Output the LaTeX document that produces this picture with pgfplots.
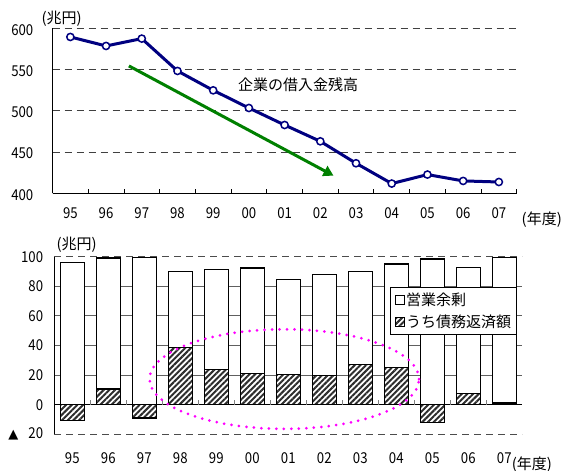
\documentclass[border=0pt]{standalone}
\usepackage{pgfplots}
\pgfplotsset{compat=1.18}
\usepackage{fontspec}
\usetikzlibrary{patterns.meta,arrows.meta}
\setmainfont{Noto Sans CJK JP}
\newfontfamily\numfont[FakeStretch=0.88]{Noto Sans CJK JP}
\newfontfamily\symfont{DejaVu Sans}
\definecolor{navyline}{HTML}{000080}
\definecolor{arrowgreen}{HTML}{008000}
\definecolor{dotmagenta}{HTML}{FF00FF}

\newcommand{\ticksize}{\numfont\fontsize{15bp}{18bp}\selectfont}
\newcommand{\jpsize}{\fontsize{15bp}{18bp}\selectfont}

\begin{document}
\begin{tikzpicture}
\useasboundingbox (0,0) rectangle (563bp,471bp);

% ---- Upper panel: outstanding corporate borrowing (trillion yen)
\begin{axis}[
  at={(52.5bp,277.7bp)}, anchor=south west,
  scale only axis, width=464.2bp, height=165bp,
  xmin=-0.5, xmax=12.5, ymin=400, ymax=600,
  axis x line*=bottom, axis y line*=left,
  axis line style={-, black, line width=1bp},
  xtick={0,...,12},
  xticklabels={95,96,97,98,99,00,01,02,03,04,05,06,07},
  minor xtick={-0.5,0.5,...,12.5},
  major x tick style={draw=none},
  minor x tick style={black, line width=0.8bp},
  minor tick length=4bp,
  ytick={400,450,...,600},
  yticklabels={400,450,500,550,600},
  ytick style={draw=none},
  ymajorgrids,
  major grid style={black!75, line width=0.7bp, dash pattern=on 7bp off 5bp},
  ticklabel style={font=\ticksize, inner sep=0pt},
  xticklabel style={anchor=north, yshift=-14bp},
  yticklabel style={anchor=east, xshift=-19bp, yshift=-1.5bp},
  clip=false,
]
\addplot[navyline, line width=3bp, mark=*, mark size=3.6bp,
         mark options={fill=white, draw=navyline, line width=1.5bp}]
  coordinates {(0,589.5)(1,578.6)(2,587.5)(3,548.3)(4,524.8)(5,503.4)(6,482.8)
               (7,463.0)(8,436.4)(9,411.8)(10,422.7)(11,415.0)(12,413.7)};
\draw[arrowgreen, line width=3bp, -{Triangle[length=10bp,width=11bp]}]
  (axis cs:1.64,554.4) -- (axis cs:7.37,421.4);
\node[font=\jpsize] at (axis cs:6.38,531.3) {企業の借入金残高};
\end{axis}

% ---- Lower panel: operating surplus and debt repayment (trillion yen)
\begin{axis}[
  at={(54.3bp,36.7bp)}, anchor=south west,
  scale only axis, width=468bp, height=177.6bp,
  xmin=-0.5, xmax=12.5, ymin=-20, ymax=100,
  ybar, bar width=24bp,
  axis x line*=bottom, axis y line*=left,
  x axis line style={draw=none},
  y axis line style={-, black, line width=1bp},
  xtick={0,...,12},
  xticklabels={95,96,97,98,99,00,01,02,03,04,05,06,07},
  xtick style={draw=none},
  ytick={0,20,...,80},
  yticklabels={0,20,40,60,80},
  ytick style={draw=none},
  ymajorgrids,
  major grid style={gray!75!black, line width=0.8bp},
  extra y ticks={-20,100},
  extra y tick labels={{{\symfont\fontsize{13bp}{13bp}\selectfont ▲}\hspace{10bp}20},100},
  extra y tick style={grid=major, major grid style={gray!60!black, line width=0.9bp, dash pattern=on 7bp off 5bp}, ytick style={draw=none}},
  ticklabel style={font=\ticksize, inner sep=0pt},
  xticklabel style={anchor=north, yshift=-14bp},
  yticklabel style={anchor=east, xshift=-11bp},
  legend cell align=left,
  legend style={at={(rel axis cs:0.989,0.831)}, anchor=north east,
    draw=black, line width=1bp, fill=white, font=\jpsize,
    inner xsep=4bp, inner ysep=4bp, row sep=5bp,
    nodes={inner sep=1.5bp},
    /tikz/every even column/.append style={column sep=1bp}},
  legend image code/.code={\draw[#1, line width=1bp] (0bp,-4.5bp) rectangle (9bp,4.5bp);},
  clip=false,
]
\addplot[bar shift=0pt, fill=white, draw=black, line width=1.2bp]
  coordinates {(0,96.2)(1,99.1)(2,99.5)(3,89.8)(4,91.4)(5,92.3)(6,84.4)
               (7,88.2)(8,89.8)(9,95.0)(10,98.4)(11,92.8)(12,99.5)};
\addplot[bar shift=0pt, draw=black, line width=1.2bp,
         pattern={Lines[angle=45, distance=4bp, line width=2bp]}, pattern color=gray!35!black]
  coordinates {(0,-10.9)(1,10.6)(2,-9.0)(3,38.9)(4,24.0)(5,21.0)(6,20.4)
               (7,19.5)(8,27.1)(9,25.1)(10,-11.8)(11,7.7)(12,1.1)};
\legend{営業余剰, うち債務返済額}
% zero line with small ticks between the years
\draw[black, line width=1bp] (axis cs:-0.5,0) -- (axis cs:12.5,0);
\foreach \bx in {0.5,1.5,2.5,3.5,4.5,5.5,6.5,7.5,8.5,9.5,10.5,11.5}{
  \edef\tickcmd{\noexpand\draw[gray, line width=0.8bp] (axis cs:\bx,0) -- (axis cs:\bx,3);}
  \tickcmd
}
% dotted ellipse around the years of heavy repayment
\draw[dotmagenta, line width=3bp, line cap=round, dash pattern=on 0bp off 7.5bp]
  (axis cs:5.89,17.3) ellipse [x radius=134.7bp, y radius=49.8bp];
\end{axis}

% unit labels
\node[font=\jpsize] at (61.7bp,452bp) {(兆円)};
\node[font=\jpsize] at (76.7bp,226bp) {(兆円)};
\node[font=\jpsize, anchor=west, inner sep=0pt] at (521.5bp,251bp) {(年度)};
\node[font=\jpsize, anchor=west, inner sep=0pt] at (511.7bp,6bp) {(年度)};
\end{tikzpicture}
\end{document}
